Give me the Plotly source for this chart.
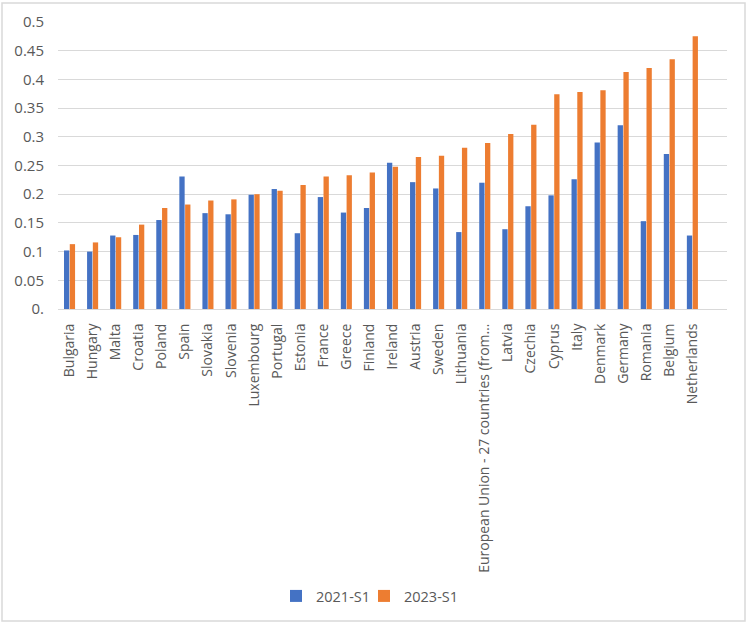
import plotly.graph_objects as go

# Data
countries = [
    "Bulgaria", "Hungary", "Malta", "Croatia", "Poland", "Spain", "Slovakia",
    "Slovenia", "Luxembourg", "Portugal", "Estonia", "France", "Greece",
    "Finland", "Ireland", "Austria", "Sweden", "Lithuania",
    "European Union - 27 countries (from…", "Latvia", "Czechia", "Cyprus",
    "Italy", "Denmark", "Germany", "Romania", "Belgium", "Netherlands",
]
values_2021 = [
    0.102, 0.100, 0.128, 0.129, 0.155, 0.231, 0.167, 0.165, 0.199, 0.209,
    0.132, 0.195, 0.168, 0.176, 0.255, 0.221, 0.210, 0.134, 0.220, 0.139,
    0.179, 0.198, 0.226, 0.290, 0.320, 0.153, 0.270, 0.128,
]
values_2023 = [
    0.113, 0.116, 0.125, 0.147, 0.176, 0.182, 0.189, 0.191, 0.200, 0.206,
    0.216, 0.231, 0.233, 0.238, 0.248, 0.265, 0.267, 0.281, 0.289, 0.305,
    0.321, 0.374, 0.378, 0.381, 0.413, 0.420, 0.435, 0.475,
]
y_ticks = [0, 0.05, 0.1, 0.15, 0.2, 0.25, 0.3, 0.35, 0.4, 0.45, 0.5]
y_tick_labels = ["0.", "0.05", "0.1", "0.15", "0.2", "0.25", "0.3", "0.35", "0.4", "0.45", "0.5"]

fig = go.Figure()
fig.add_trace(go.Bar(x=countries, y=values_2021, name="2021-S1", legend="legend",
                     showlegend=True,
                     marker=dict(color="#4472C4", line=dict(width=0))))
fig.add_trace(go.Bar(x=countries, y=values_2023, name="2023-S1", legend="legend2",
                     showlegend=True,
                     marker=dict(color="#ED7D31", line=dict(width=0))))

# plot area in pixels: x 58..727, y 22..309.5
pw, ph = 669.0, 287.5
def px(v):
    return (v - 58) / pw
def py(v):
    return (309.5 - v) / ph

# one legend box per series so the two entries sit close together like Excel's
legend_style = dict(orientation="h", xanchor="left", y=py(597), yanchor="middle",
                    font=dict(size=14.5, color="#595959"), itemwidth=30,
                    bgcolor="rgba(0,0,0,0)", visible=True)

fig.update_layout(
    width=750, height=626,
    margin=dict(l=58, r=23, t=22, b=316.5),
    paper_bgcolor="white", plot_bgcolor="white",
    font=dict(family="Open Sans", size=14, color="#595959"),
    barmode="group", bargap=0.5, bargroupgap=0.08,
    showlegend=True,
    legend=dict(x=px(276), **legend_style),
    legend2=dict(x=px(364), **legend_style),
    # the source sheet has one blank category after Netherlands
    xaxis=dict(range=[-0.5, len(countries) + 0.5],
               tickangle=-90, showgrid=False, showline=True,
               linecolor="#D9D9D9", linewidth=1, ticks="",
               ticklabelstandoff=8,
               tickfont=dict(size=14, color="#595959")),
    yaxis=dict(range=[0, 0.5], tickvals=y_ticks, ticktext=y_tick_labels,
               showgrid=True, gridcolor="#D9D9D9", gridwidth=1,
               zeroline=False, showline=False, ticks="",
               ticklabelstandoff=13,
               tickfont=dict(size=15, color="#595959")),
    shapes=[dict(type="rect", xref="paper", yref="paper",
                 x0=px(2), x1=px(745), y0=py(622), y1=py(3),
                 line=dict(color="#D9D9D9", width=1.5), layer="below")],
)

fig.write_html("out.html", config={"displayModeBar": False},
               post_script="document.body.style.margin='0';")
